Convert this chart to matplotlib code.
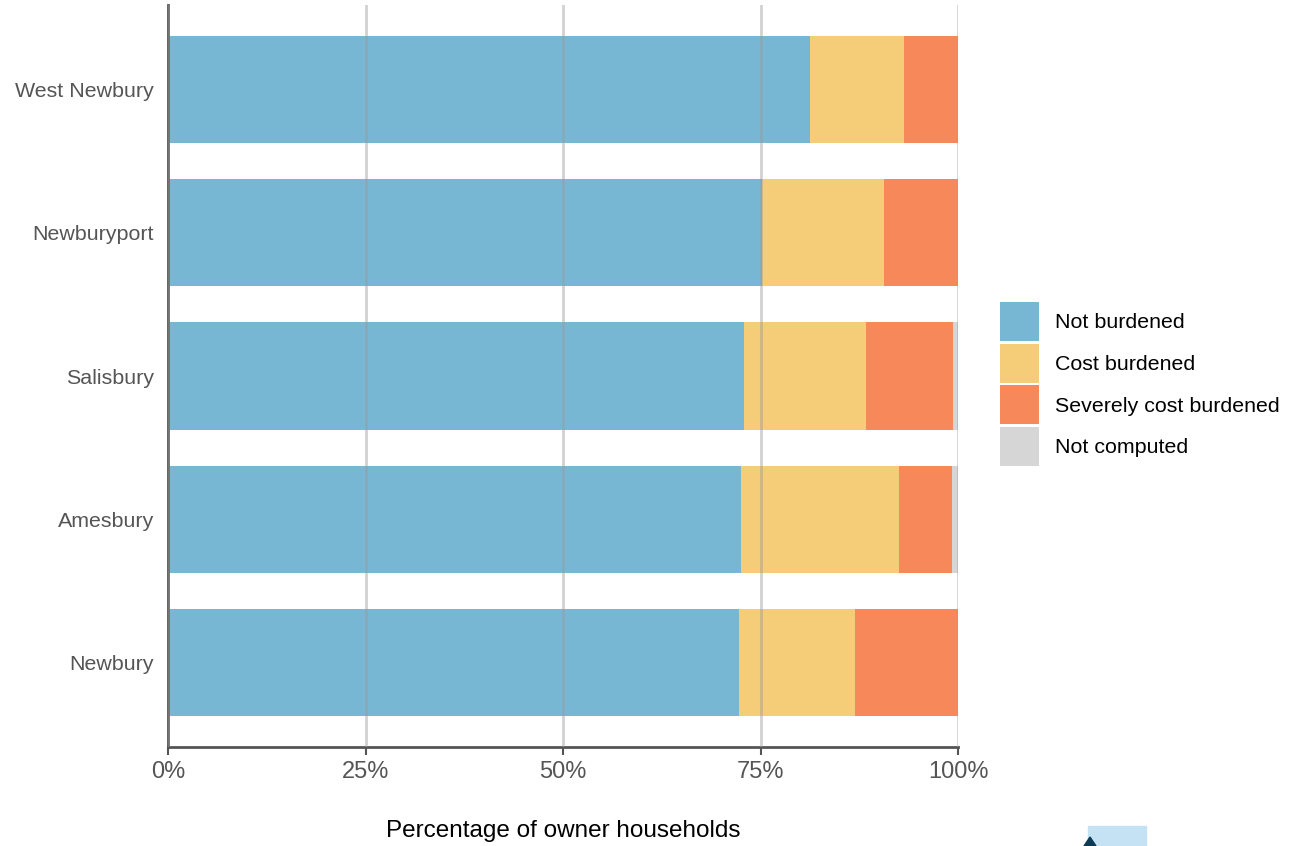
import matplotlib
matplotlib.use("Agg")
import matplotlib.pyplot as plt
from matplotlib.patches import Rectangle, Polygon

plt.rcParams["font.family"] = ["Liberation Sans", "DejaVu Sans"]

# -------------------------
# Data (percent of owner households)
# -------------------------

towns = ["West Newbury", "Newburyport", "Salisbury", "Amesbury", "Newbury"]

not_burdened = [81.3, 75.2, 72.9, 72.5, 72.3]
cost_burdened = [11.9, 15.4, 15.5, 20.0, 14.7]
severely_burdened = [6.8, 9.4, 11.0, 6.7, 13.0]
not_computed = [0.0, 0.0, 0.6, 0.8, 0.0]

series_labels = ["Not burdened", "Cost burdened", "Severely cost burdened", "Not computed"]
series_colors = ["#77b7d4", "#f5cc78", "#f7885a", "#d6d6d6"]

x_ticks = [0, 25, 50, 75, 100]
x_tick_labels = ["0%", "25%", "50%", "75%", "100%"]

# -------------------------
# Plot
# -------------------------

fig = plt.figure(figsize=(13.12, 8.46), dpi=100)
ax = fig.add_axes([168 / 1312, 99 / 846, 790 / 1312, 742 / 846])

y_pos = list(range(len(towns)))[::-1]

left = [0.0] * len(towns)
handles = []
for vals, label, color in zip(
    [not_burdened, cost_burdened, severely_burdened, not_computed],
    series_labels,
    series_colors,
):
    bars = ax.barh(y_pos, vals, left=left, height=0.75, color=color,
                   label=label, zorder=2, linewidth=0)
    handles.append(bars)
    left = [l + v for l, v in zip(left, vals)]

# grid lines drawn over the bars, semi transparent
for t in x_ticks:
    ax.axvline(t, color="#9a9a9a", alpha=0.45, linewidth=2, zorder=3)

ax.set_xlim(0, 100)
ax.set_ylim(-0.59, len(towns) - 1 + 0.59)

ax.set_xticks(x_ticks)
ax.set_xticklabels(x_tick_labels, fontsize=17, color="#555555")
ax.set_yticks(y_pos)
ax.set_yticklabels(towns, fontsize=15.4, color="#555555")

ax.tick_params(axis="x", length=6, width=1.5, color="#555555", pad=4)
ax.tick_params(axis="y", length=0, pad=10)

ax.set_xlabel("Percentage of owner households", fontsize=17.5,
              color="black", labelpad=27)

for s in ["top", "right"]:
    ax.spines[s].set_visible(False)
for s in ["left", "bottom"]:
    ax.spines[s].set_color("#555555")
    ax.spines[s].set_linewidth(2)

# -------------------------
# Legend
# -------------------------

fig.legend(
    handles=handles,
    labels=series_labels,
    loc="center left",
    bbox_to_anchor=(996 / 1312, 1 - 384 / 846),
    frameon=False,
    fontsize=15.4,
    handlelength=1.82,
    handleheight=2.42,
    handletextpad=0.75,
    labelspacing=0.14,
    borderaxespad=0,
    borderpad=0.2,
)

# cropped logo at bottom right
fig.patches.append(Rectangle((1088 / 1312, 0), 58 / 1312, 20 / 846,
                             transform=fig.transFigure, color="#c4e2f3",
                             zorder=0))
fig.patches.append(Polygon([(1084 / 1312, 0), (1090 / 1312, 9 / 846),
                            (1096 / 1312, 0)], closed=True,
                           transform=fig.transFigure, color="#0d3b55"))

plt.savefig("out.png", dpi=100)
